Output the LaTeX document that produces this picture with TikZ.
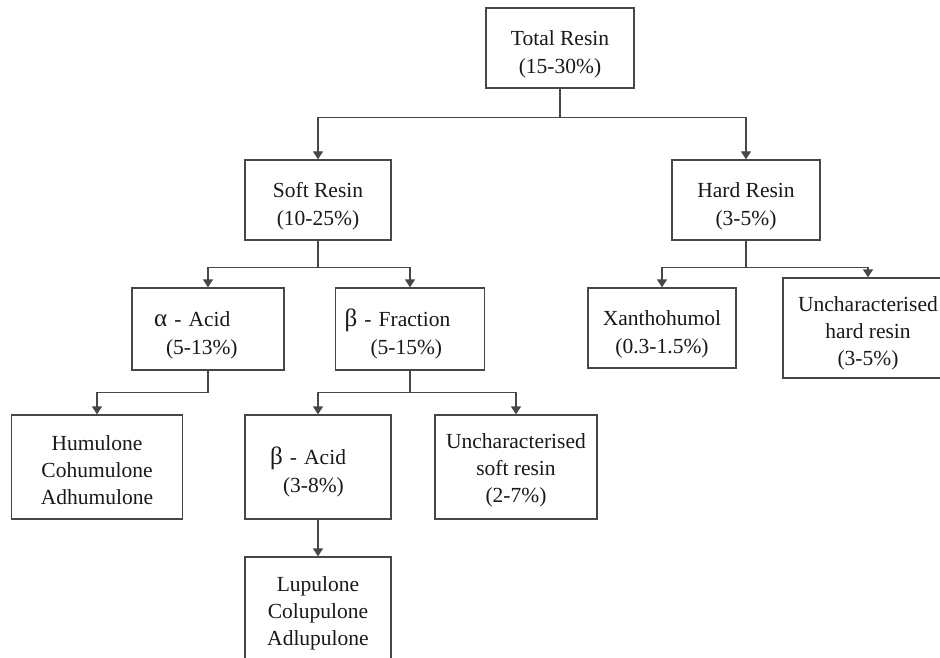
\documentclass[tikz,border=0pt]{standalone}
\usepackage{fontspec}
\setmainfont{Liberation Serif}
\usetikzlibrary{arrows.meta}
\newcommand{\grk}[1]{{\fontsize{25}{27}\selectfont #1}}
\newcommand{\topstrut}[1][28pt]{\rule{0pt}{#1}}
\begin{document}
\begin{tikzpicture}[x=1pt,y=-1pt,
  box/.style={draw=black!72,line width=1.3pt,fill=white,align=center,inner sep=0pt,
    font=\fontsize{21.5}{28.5}\selectfont,text=black!90},
  threeline/.style={font=\fontsize{21.5}{27}\selectfont},
  conn/.style={draw=black!72,line width=1.3pt,-{Triangle[width=10pt,length=8pt]}}]
\useasboundingbox (0,0) rectangle (940,658);
\node[box,minimum width=148,minimum height=80] (total) at (560,48) {\topstrut Total Resin\\(15-30\%)};
\node[box,minimum width=146,minimum height=80] (soft) at (318,200) {\topstrut Soft Resin\\(10-25\%)};
\node[box,minimum width=148,minimum height=80] (hard) at (746,200) {\topstrut Hard Resin\\(3-5\%)};
\node[box,minimum width=152,minimum height=82,align=left,inner xsep=22pt,text width=108pt] (alpha) at (208,329) {\topstrut\grk{α} - Acid\\\hspace*{12pt}(5-13\%)};
\node[box,minimum width=149,minimum height=82,align=left,inner xsep=9pt,text width=131pt] (betaf) at (410,329) {\topstrut\grk{β} - Fraction\\\hspace*{26pt}(5-15\%)};
\node[box,minimum width=148,minimum height=80] (xan) at (662,328) {\topstrut Xanthohumol\\(0.3-1.5\%)};
\node[box,threeline,minimum width=170,minimum height=100] (uhard) at (868,328) {\topstrut[26pt]Uncharacterised\\hard resin\\(3-5\%)};
\node[box,threeline,minimum width=171,minimum height=104] (humu) at (97,467) {\topstrut[22pt]Humulone\\Cohumulone\\Adhumulone};
\node[box,minimum width=146,minimum height=104,align=left,inner xsep=25pt,text width=96pt] (betaa) at (318,467) {\topstrut\grk{β} - Acid\\\hspace*{13pt}(3-8\%)};
\node[box,threeline,minimum width=162,minimum height=104] (usoft) at (516,467) {\topstrut[22pt]Uncharacterised\\soft resin\\(2-7\%)};
\node[box,threeline,minimum width=146,minimum height=104] (lupu) at (318,609) {\topstrut[23pt]Lupulone\\Colupulone\\Adlupulone};
\draw[conn] (total.south) -- ++(0,29) -| (soft.north);
\draw[conn] (total.south) -- ++(0,29) -| (hard.north);
\draw[conn] (soft.south) -- ++(0,27) -| (alpha.north);
\draw[conn] (soft.south) -- ++(0,27) -| (betaf.north);
\draw[conn] (hard.south) -- ++(0,27) -| (xan.north);
\draw[conn] (hard.south) -- ++(0,27) -| (uhard.north);
\draw[conn] (alpha.south) -- ++(0,22) -| (humu.north);
\draw[conn] (betaf.south) -- ++(0,22) -| (betaa.north);
\draw[conn] (betaf.south) -- ++(0,22) -| (usoft.north);
\draw[conn] (betaa.south) -- (lupu.north);
\end{tikzpicture}
\end{document}
